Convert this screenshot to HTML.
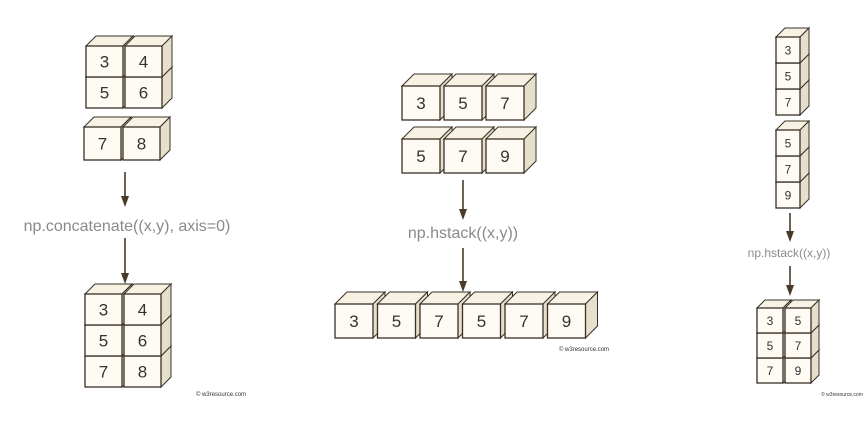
<!DOCTYPE html>
<html><head><meta charset="utf-8"><style>
html,body{margin:0;padding:0;background:#fff;}
svg{display:block;font-family:"Liberation Sans",sans-serif;}
</style></head><body>
<svg id="s" width="868" height="427" viewBox="0 0 868 427">
</svg>
<script>
const svg=document.getElementById('s');
const NS='http://www.w3.org/2000/svg';
function el(t,a,p){const e=document.createElementNS(NS,t);for(const k in a)e.setAttribute(k,a[k]);(p||svg).appendChild(e);return e;}
function cube(x,y,w,h,d,label,fs){
  const g=el('g',{});
  
  
  el('polygon',{points:`${x},${y} ${x+d},${y-d} ${x+w+d},${y-d} ${x+w},${y}`,fill:'#f7f2e4',stroke:'#3a3026','stroke-width':1},g);
  el('polygon',{points:`${x+w},${y} ${x+w+d},${y-d} ${x+w+d},${y+h-d} ${x+w},${y+h}`,fill:'#e6dfcc',stroke:'#3a3026','stroke-width':1},g);
  el('rect',{x:x,y:y,width:w,height:h,fill:'#fdfbf3',stroke:'#3a3026','stroke-width':1.3},g);
  const t=el('text',{x:x+w/2,y:y+h/2+fs*0.36,'text-anchor':'middle','font-size':fs,fill:'#333'},g);
  t.textContent=label;
}
function grid(x0,y0,w,h,d,rows,fs,gap){
  for(let i=rows.length-1;i>=0;i--) for(let j=0;j<rows[i].length;j++)
    cube(x0+j*(w+gap),y0+i*h,w,h,d,rows[i][j],fs);
}
function arrow(x,y1,y2,name){
  const g=el('g',{});
  
  
  el('line',{x1:x,y1:y1,x2:x,y2:y2-8,stroke:'#4a3a2a','stroke-width':1.6},g);
  el('polygon',{points:`${x-4},${y2-11} ${x+4},${y2-11} ${x},${y2}`,fill:'#4a3a2a'},g);
}
function label(x,y,fs,txt,name,col){const t=el('text',{x:x,y:y,'text-anchor':'middle','font-size':fs,fill:col||'#8a8a8a'});t.textContent=txt;}
// panel 1
grid(86,46,37,31,10,[[3,4],[5,6]],17,2);
grid(84,127,37,33,10,[[7,8]],17,2);
arrow(125,172,207,'arrow-1a');
label(127,231,16,'np.concatenate((x,y), axis=0)','concatenate-label');
arrow(125,238,284,'arrow-1b');
grid(85,294,37,31,10,[[3,4],[5,6],[7,8]],17,2);
label(221,396,6,'© w3resource.com','copyright-1','#333');
// panel 2
grid(402,86,38,34,12,[[3,5,7]],17,4);
grid(402,139,38,34,12,[[5,7,9]],17,4);
arrow(463,180,220,'arrow-2a');
label(463,238,16,'np.hstack((x,y))','hstack-label-2');
arrow(463,248,292,'arrow-2b');
grid(335,304,38,34,12,[[3,5,7,5,7,9]],17,4.5);
label(584,351,6,'© w3resource.com','copyright-2','#333');
// panel 3
grid(776,37,24,26,9,[[3],[5],[7]],12,0);
grid(776,130,24,26,9,[[5],[7],[9]],12,0);
arrow(790,213,242,'arrow-3a');
label(789,257,12,'np.hstack((x,y))','hstack-label-3');
arrow(790,266,296,'arrow-3b');
grid(757,308,26,25,8,[[3,5],[5,7],[7,9]],12,2);
label(842,396,5,'© w3resource.com','copyright-3','#333');
</script>
</body></html>
